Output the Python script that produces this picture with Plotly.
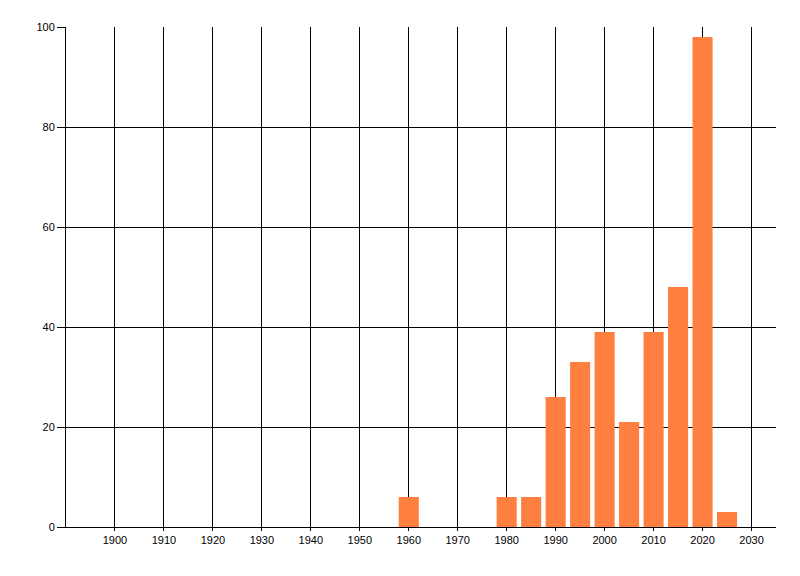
import plotly.graph_objects as go

# bins (5-year buckets) and counts
years = [1960, 1980, 1985, 1990, 1995, 2000, 2005, 2010, 2015, 2020, 2025]
counts = [6, 6, 6, 26, 33, 39, 21, 39, 48, 98, 3]

x_ticks = list(range(1900, 2031, 10))
y_ticks = [0, 20, 40, 60, 80, 100]

fig = go.Figure()

fig.add_trace(go.Bar(x=years, y=counts,
                     width=4.1,
                     marker=dict(color="#FF7F40", line=dict(width=0)),
                     hoverinfo="x+y"))

# page body has an 8px margin, so margins are shifted to land the plot area where it should be
fig.update_layout(width=800, height=576,
                  margin=dict(l=58, r=32, t=19, b=57, autoexpand=False),
                  plot_bgcolor="white",
                  paper_bgcolor="white",
                  showlegend=False,
                  font=dict(family="Liberation Sans", size=11, color="black"))

fig.update_xaxes(range=[1890, 2035],
                 tickvals=x_ticks,
                 showgrid=True, gridcolor="black", gridwidth=1,
                 showline=True, linecolor="black", linewidth=1,
                 ticks="outside", ticklen=3, tickcolor="black",
                 zeroline=False)

fig.update_yaxes(range=[0, 100],
                 tickvals=y_ticks,
                 showgrid=True, gridcolor="black", gridwidth=1,
                 showline=True, linecolor="black", linewidth=1,
                 ticks="outside", ticklen=8, tickcolor="black",
                 zeroline=False)

fig.write_html("out.html")
